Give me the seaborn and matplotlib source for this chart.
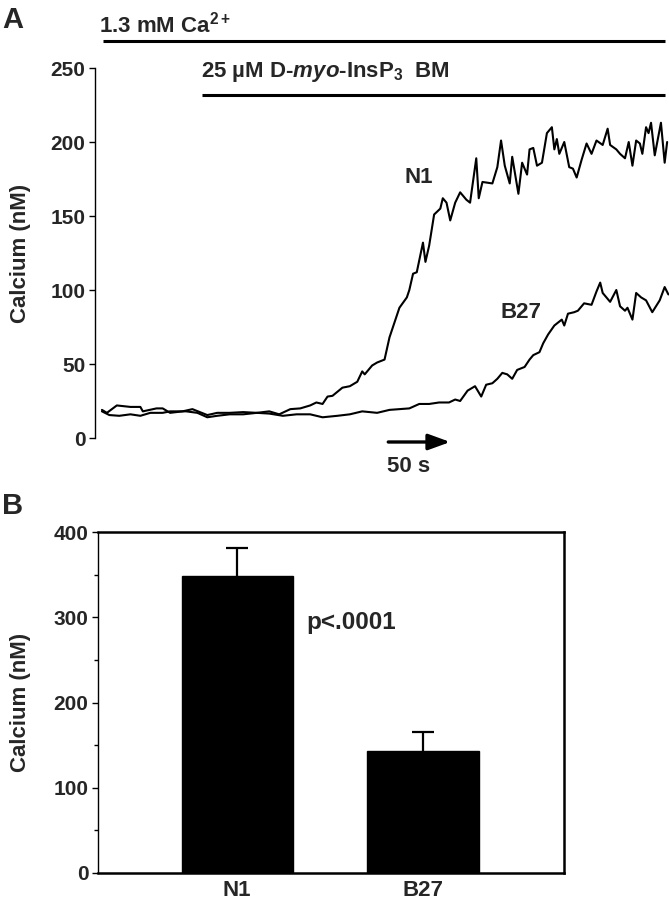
import numpy as np
import pandas as pd
import matplotlib
matplotlib.use("Agg")
import matplotlib.pyplot as plt
import seaborn as sns

sns.set_theme(style="white")
plt.rcParams['font.family'] = ['Liberation Sans', 'DejaVu Sans']
plt.rcParams['font.weight'] = 'bold'
plt.rcParams['mathtext.fontset'] = 'custom'
plt.rcParams['mathtext.rm'] = 'Liberation Sans:bold'
plt.rcParams['mathtext.bf'] = 'Liberation Sans:bold'
plt.rcParams['mathtext.it'] = 'Liberation Sans:italic:bold'

# ---------------- Panel A data (time in s, calcium in nM) ----------------
n1_time = [0, 4, 12, 23, 31, 33, 44, 49, 55, 65, 73, 85, 93, 103, 114, 125, 135, 143,
           152, 160, 168, 173, 178, 182, 186, 194, 200, 206, 210, 212, 214, 218, 222,
           228, 232, 240, 246, 248, 251, 254, 259, 261, 264, 268, 273, 275, 278, 281,
           285, 289, 294, 297, 302, 304, 307, 315, 319, 322, 325, 329, 331, 336, 339,
           343, 345, 348, 351, 355, 359, 363, 365, 367, 369, 373, 377, 380, 383, 387,
           391, 395, 399, 404, 408, 410, 415, 418, 422, 425, 428, 431, 434, 436, 439,
           441, 443, 446, 451, 454, 456]
n1_calcium = [19, 17, 22, 21, 21, 18, 20, 20, 17, 18, 19.5, 15.5, 17, 17, 17.5, 17, 18, 16,
              19.5, 20, 22, 24, 23, 28, 28.5, 34, 35, 38, 45, 43, 45, 49, 51,
              53, 68, 88, 95, 100, 111, 112, 132, 119, 130, 151, 155, 162, 159, 147,
              159, 166, 161, 159, 189, 162, 173, 172, 183, 201, 184, 172, 190, 165, 186,
              178, 195, 196, 184, 186, 206, 210, 195, 202, 192, 200, 183, 182, 176, 188,
              199, 192, 201, 198, 209, 198, 195, 192, 189, 200, 184, 201, 199, 192, 210,
              206, 213, 191, 213, 186, 200]

b27_time = [0, 6, 14, 23, 31, 39, 49, 55, 68, 77, 85, 93, 103, 114, 125, 135, 146, 157,
            168, 178, 190, 200, 210, 222, 232, 248, 256, 264, 272, 280, 285, 289, 295,
            301, 306, 310, 315, 319, 323, 327, 331, 335, 341, 345, 348, 353, 356, 360,
            365, 371, 373, 376, 381, 384, 389, 395, 399, 402, 404, 410, 415, 418, 422,
            424, 428, 431, 435, 439, 444, 450, 454, 457]
b27_calcium = [18, 15.5, 15, 16, 15, 17, 17, 18, 18, 17, 14, 15, 16, 16, 17, 16.5, 15, 16,
               16, 14, 15, 16, 18, 17, 19, 20, 23, 23, 24, 24, 26, 25, 32,
               35, 28, 36, 37, 40, 44, 43, 40, 46, 48, 53, 56, 58, 64, 70,
               76, 80, 76, 84, 85, 86, 91, 90, 99, 105, 98, 92, 100, 89, 86,
               88, 80, 98, 95, 93, 85, 93, 102, 97]

trace_names = ["N1", "B27"]
yticks_a = [0, 50, 100, 150, 200, 250]

# ---------------- Panel B data ----------------
groups = ["N1", "B27"]
means = [348, 143]
sems = [33, 22]
yticks_b = [0, 100, 200, 300, 400]

df_a = pd.concat([
    pd.DataFrame({"time": n1_time, "calcium": n1_calcium, "group": "N1"}),
    pd.DataFrame({"time": b27_time, "calcium": b27_calcium, "group": "B27"}),
])
df_b = pd.DataFrame({"group": groups, "calcium": means})

W, H = 669, 900
fig = plt.figure(figsize=(W / 100, H / 100), dpi=100)

def rect(x0, y0, x1, y1):
    return [x0 / W, 1 - y1 / H, (x1 - x0) / W, (y1 - y0) / H]

TICK_FS = 15
LAB_FS = 16

# ---------------- Panel A ----------------
axA = fig.add_axes(rect(95, 68, 669, 438))
sns.lineplot(data=df_a, x="time", y="calcium", units="group", estimator=None,
             color="black", linewidth=1.5, ax=axA, sort=False)
axA.set_xlim(-5.6, 457.5)
axA.set_ylim(0, 250)
axA.set_yticks(yticks_a)
axA.set_yticklabels([str(v) for v in yticks_a], fontsize=TICK_FS, fontweight='bold')
axA.set_xticks([])
axA.set_xlabel("")
axA.set_ylabel("Calcium (nM)", fontsize=LAB_FS, fontweight='bold', labelpad=14)
for s in ["top", "right", "bottom"]:
    axA.spines[s].set_visible(False)
axA.spines["left"].set_color("black")
axA.spines["left"].set_linewidth(1.0)
axA.tick_params(axis="y", direction="out", length=4, width=1, color="black", pad=3)
axA.tick_params(axis="x", length=0)
axA.yaxis.set_ticks_position('left')

# Treatment bars and labels
ca_bar = [1, 454]
ca_bar_y = 268
ins_bar = [81, 454]
ins_bar_y = 232
axA.plot(ca_bar, [ca_bar_y, ca_bar_y], color="black", lw=2.2, clip_on=False, solid_capstyle='butt')
axA.plot(ins_bar, [ins_bar_y, ins_bar_y], color="black", lw=2.2, clip_on=False, solid_capstyle='butt')
axA.text(-2, 274, r"1.3 mM Ca$^{\mathrm{2+}}$", fontsize=LAB_FS, fontweight='bold',
         ha='left', va='baseline', clip_on=False)
axA.text(80, 244, "25 \u00b5M D-$\\mathit{myo}$-InsP$_{\\mathrm{3}}$  BM", fontsize=LAB_FS,
         fontweight='bold', ha='left', va='baseline', clip_on=False)
axA.text(256, 176, "N1", fontsize=LAB_FS, fontweight='bold', ha='center', va='center')
axA.text(338, 85, "B27", fontsize=LAB_FS, fontweight='bold', ha='center', va='center')

# 50 s scale arrow
arrow_start, arrow_len = 231, 50
axA.annotate("", xy=(arrow_start + arrow_len, -2.7), xytext=(arrow_start, -2.7),
             arrowprops=dict(arrowstyle="-|>,head_length=1.1,head_width=0.4",
                             color="black", lw=2.4, shrinkA=0, shrinkB=0),
             annotation_clip=False)
axA.text(arrow_start - 1, -19.5, "50 s", fontsize=LAB_FS, fontweight='bold', ha='left',
         va='center', clip_on=False)

fig.text(2 / W, 1 - 20 / H, "A", fontsize=21, fontweight='bold', ha='left', va='center')

# ---------------- Panel B ----------------
axB = fig.add_axes(rect(98, 532, 564, 873))
sns.barplot(data=df_b, x="group", y="calcium", order=groups, color="black",
            width=0.6, errorbar=None, ax=axB, saturation=1)
for p in axB.patches:
    p.set_edgecolor("black")
eb = axB.errorbar(range(len(groups)), means, yerr=[[0] * len(groups), sems], fmt="none",
                  ecolor="black", elinewidth=1.6, capsize=8, capthick=1.6)
# hide the lower (zero-length) caps
for cl in eb[1]:
    yd = np.asarray(cl.get_ydata())
    if np.allclose(yd, means):
        cl.set_visible(False)
axB.set_xlim(-0.75, 1.76)
axB.set_ylim(0, 400)
axB.set_yticks(yticks_b)
axB.set_yticks([50, 150, 250, 350], minor=True)
axB.set_yticklabels([str(v) for v in yticks_b], fontsize=TICK_FS, fontweight='bold')
axB.set_xticks(range(len(groups)))
axB.set_xticklabels(groups, fontsize=LAB_FS, fontweight='bold')
axB.set_xlabel("")
axB.set_ylabel("Calcium (nM)", fontsize=LAB_FS, fontweight='bold', labelpad=16)
for name, s in axB.spines.items():
    s.set_visible(True)
    s.set_color("black")
    s.set_linewidth(1.0 if name == "left" else 1.8)
axB.tick_params(axis="y", which="major", direction="out", length=4, width=1, color="black",
                left=True, pad=3)
axB.tick_params(axis="y", which="minor", direction="out", length=3, width=1, color="black",
                left=True)
axB.tick_params(axis="x", length=0, pad=5)
axB.text(0.37, 294, "p<.0001", fontsize=17.5, fontweight='bold', ha='left', va='center')

fig.text(2 / W, 1 - 506 / H, "B", fontsize=21, fontweight='bold', ha='left', va='center')

fig.savefig("out.png", dpi=100, facecolor="white")
